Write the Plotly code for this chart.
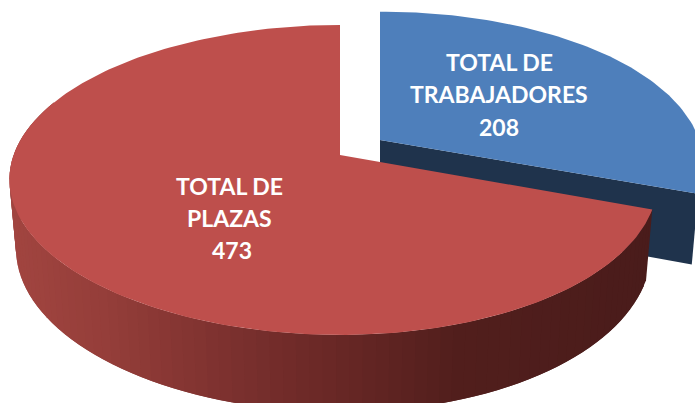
import numpy as np
import plotly.graph_objects as go

categories = [["TOTAL DE", "TRABAJADORES"], ["TOTAL DE", "PLAZAS"]]
values = [208, 473]

# view geometry of the tilted disc (pixels)
K = 0.161
BLUE_B = 149
RED_B = 151
DEPTH = 68
BLUE_APEX = (380, 140)
RED_APEX = (340, 155)
BLUE_X = 326
RED_X = 320
SKEW = 0.02
RED_STOPS = [(0, "#a34641"), (100, "#953e3a"), (233, "#7a302e"), (340, "#672725"),
             (450, "#521f1d"), (660, "#4a1c1b")]
TOP_BLUE, INNER_BLUE = "#4e7fbb", "#1f334c"
TOP_RED = "#be4f4c"

total = sum(values)
split = 2 * np.pi * values[0] / total


def proj(t, apex, X, B, bottom=False):
    u, v = np.sin(t), np.cos(t)
    d = 1 + K * v
    dx = X * u / d * (1 - SKEW * u)
    dy = -B * v / d
    if bottom:
        dx, dy = dx * 0.98, dy * 1.05 + DEPTH
    return apex[0] + dx, apex[1] + dy


def mix(x):
    xs = [s[0] for s in RED_STOPS]
    rgb = [[int(s[1][i:i + 2], 16) for s in RED_STOPS] for i in (1, 3, 5)]
    return "rgb(%d,%d,%d)" % tuple(np.interp(x, xs, c) for c in rgb)


fig = go.Figure()


def poly(xs, ys, color):
    fig.add_trace(go.Scatter(x=list(xs), y=list(ys), mode="lines", fill="toself",
                             fillcolor=color, line=dict(width=0),
                             hoverinfo="skip", showlegend=False))


# blue slice: inner cut face, then top
tb = np.linspace(0, split, 90)
cx, cy = proj(split, BLUE_APEX, BLUE_X, BLUE_B)
bx, by = proj(split, BLUE_APEX, BLUE_X, BLUE_B, True)
ax, ay = BLUE_APEX
poly([ax, cx, bx, ax], [ay, cy, by, ay + DEPTH], INNER_BLUE)
x, y = proj(tb, BLUE_APEX, BLUE_X, BLUE_B)
poly(np.r_[ax, x, ax], np.r_[ay, y, ay], TOP_BLUE)

# red slice: shaded outer wall in overlapping strips (right to left), then top
edges = np.linspace(split, np.pi * 1.62, 91)
for i in range(len(edges) - 1):
    ts = np.array([edges[i], edges[min(i + 2, len(edges) - 1)]])
    xt, yt = proj(ts, RED_APEX, RED_X, RED_B)
    xb, yb = proj(ts, RED_APEX, RED_X, RED_B, True)
    poly(np.r_[xt, xb[::-1]], np.r_[yt, yb[::-1]], mix(xt.mean()))
tr = np.linspace(split, 2 * np.pi, 200)
x, y = proj(tr, RED_APEX, RED_X, RED_B)
poly(np.r_[RED_APEX[0], x, RED_APEX[0]], np.r_[RED_APEX[1], y, RED_APEX[1]], TOP_RED)

label_pos = [([499, 499, 499], [62, 94, 127]), ([229, 229, 232], [186, 218, 250])]
annotations = []
for lines, v, (lxs, lys) in zip(categories, values, label_pos):
    for txt, lx, ly in zip(lines + [str(v)], lxs, lys):
        annotations.append(dict(x=lx, y=ly, xref="x", yref="y", showarrow=False, text=txt,
                                font=dict(family="Lato", size=23, color="white", weight="bold")))

fig.update_layout(
    width=695, height=403, margin=dict(l=0, r=0, t=0, b=0),
    paper_bgcolor="white", plot_bgcolor="white", showlegend=False,
    annotations=annotations,
    xaxis=dict(range=[0, 695], visible=False, fixedrange=True),
    yaxis=dict(range=[403, 0], visible=False, fixedrange=True),
)
fig.write_html("out.html", config={"displayModeBar": False},
               post_script="document.body.style.margin='0';document.documentElement.style.overflow='hidden';")
